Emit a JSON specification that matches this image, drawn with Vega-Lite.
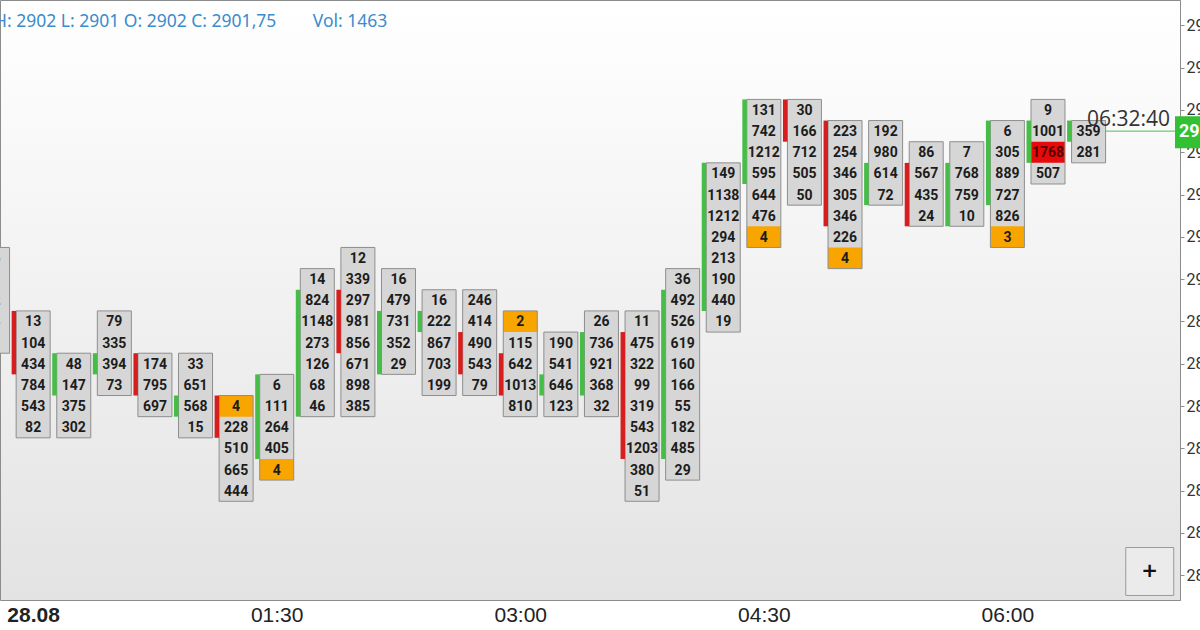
{
  "$schema": "https://vega.github.io/schema/vega-lite/v6.json",
  "width": 1180,
  "height": 600,
  "autosize": "none",
  "padding": {"left": 0, "top": 0, "right": 20, "bottom": 30},
  "background": "#ffffff",
  "title": {
    "text": "H: 2902 L: 2901 O: 2902 C: 2901,75\u00a0\u00a0\u00a0\u00a0\u00a0\u00a0\u00a0\u00a0Vol: 1463",
    "anchor": "start",
    "frame": "group",
    "orient": "top",
    "offset": 0,
    "dx": -6,
    "dy": 44,
    "baseline": "alphabetic",
    "font": "Noto Sans",
    "fontSize": 17.5,
    "fontWeight": "normal",
    "color": "#3a8ccc"
  },
  "config": {
    "view": {
      "stroke": "#8c8c8c",
      "fill": {"gradient": "linear", "x1": 0, "y1": 0, "x2": 0, "y2": 1, "stops": [{"offset": 0, "color": "#ffffff"}, {"offset": 1, "color": "#e3e3e3"}]}
    }
  },
  "datasets": {
    "cells": [
      {"t": "2019-08-27T23:45", "p": 2900.25, "v": 15}, {"t": "2019-08-27T23:45", "p": 2900, "v": 41}, {"t": "2019-08-27T23:45", "p": 2899.75, "v": 52}, {"t": "2019-08-27T23:45", "p": 2899.5, "v": 38}, {"t": "2019-08-27T23:45", "p": 2899.25, "v": 9},
      {"t": "2019-08-28T00:00", "p": 2899.5, "v": 13}, {"t": "2019-08-28T00:00", "p": 2899.25, "v": 104}, {"t": "2019-08-28T00:00", "p": 2899, "v": 434}, {"t": "2019-08-28T00:00", "p": 2898.75, "v": 784}, {"t": "2019-08-28T00:00", "p": 2898.5, "v": 543}, {"t": "2019-08-28T00:00", "p": 2898.25, "v": 82},
      {"t": "2019-08-28T00:15", "p": 2899, "v": 48}, {"t": "2019-08-28T00:15", "p": 2898.75, "v": 147}, {"t": "2019-08-28T00:15", "p": 2898.5, "v": 375}, {"t": "2019-08-28T00:15", "p": 2898.25, "v": 302},
      {"t": "2019-08-28T00:30", "p": 2899.5, "v": 79}, {"t": "2019-08-28T00:30", "p": 2899.25, "v": 335}, {"t": "2019-08-28T00:30", "p": 2899, "v": 394}, {"t": "2019-08-28T00:30", "p": 2898.75, "v": 73},
      {"t": "2019-08-28T00:45", "p": 2899, "v": 174}, {"t": "2019-08-28T00:45", "p": 2898.75, "v": 795}, {"t": "2019-08-28T00:45", "p": 2898.5, "v": 697},
      {"t": "2019-08-28T01:00", "p": 2899, "v": 33}, {"t": "2019-08-28T01:00", "p": 2898.75, "v": 651}, {"t": "2019-08-28T01:00", "p": 2898.5, "v": 568}, {"t": "2019-08-28T01:00", "p": 2898.25, "v": 15},
      {"t": "2019-08-28T01:15", "p": 2898.5, "v": 4, "k": "o"}, {"t": "2019-08-28T01:15", "p": 2898.25, "v": 228}, {"t": "2019-08-28T01:15", "p": 2898, "v": 510}, {"t": "2019-08-28T01:15", "p": 2897.75, "v": 665}, {"t": "2019-08-28T01:15", "p": 2897.5, "v": 444},
      {"t": "2019-08-28T01:30", "p": 2898.75, "v": 6}, {"t": "2019-08-28T01:30", "p": 2898.5, "v": 111}, {"t": "2019-08-28T01:30", "p": 2898.25, "v": 264}, {"t": "2019-08-28T01:30", "p": 2898, "v": 405}, {"t": "2019-08-28T01:30", "p": 2897.75, "v": 4, "k": "o"},
      {"t": "2019-08-28T01:45", "p": 2900, "v": 14}, {"t": "2019-08-28T01:45", "p": 2899.75, "v": 824}, {"t": "2019-08-28T01:45", "p": 2899.5, "v": 1148}, {"t": "2019-08-28T01:45", "p": 2899.25, "v": 273}, {"t": "2019-08-28T01:45", "p": 2899, "v": 126}, {"t": "2019-08-28T01:45", "p": 2898.75, "v": 68}, {"t": "2019-08-28T01:45", "p": 2898.5, "v": 46},
      {"t": "2019-08-28T02:00", "p": 2900.25, "v": 12}, {"t": "2019-08-28T02:00", "p": 2900, "v": 339}, {"t": "2019-08-28T02:00", "p": 2899.75, "v": 297}, {"t": "2019-08-28T02:00", "p": 2899.5, "v": 981}, {"t": "2019-08-28T02:00", "p": 2899.25, "v": 856}, {"t": "2019-08-28T02:00", "p": 2899, "v": 671}, {"t": "2019-08-28T02:00", "p": 2898.75, "v": 898}, {"t": "2019-08-28T02:00", "p": 2898.5, "v": 385},
      {"t": "2019-08-28T02:15", "p": 2900, "v": 16}, {"t": "2019-08-28T02:15", "p": 2899.75, "v": 479}, {"t": "2019-08-28T02:15", "p": 2899.5, "v": 731}, {"t": "2019-08-28T02:15", "p": 2899.25, "v": 352}, {"t": "2019-08-28T02:15", "p": 2899, "v": 29},
      {"t": "2019-08-28T02:30", "p": 2899.75, "v": 16}, {"t": "2019-08-28T02:30", "p": 2899.5, "v": 222}, {"t": "2019-08-28T02:30", "p": 2899.25, "v": 867}, {"t": "2019-08-28T02:30", "p": 2899, "v": 703}, {"t": "2019-08-28T02:30", "p": 2898.75, "v": 199},
      {"t": "2019-08-28T02:45", "p": 2899.75, "v": 246}, {"t": "2019-08-28T02:45", "p": 2899.5, "v": 414}, {"t": "2019-08-28T02:45", "p": 2899.25, "v": 490}, {"t": "2019-08-28T02:45", "p": 2899, "v": 543}, {"t": "2019-08-28T02:45", "p": 2898.75, "v": 79},
      {"t": "2019-08-28T03:00", "p": 2899.5, "v": 2, "k": "o"}, {"t": "2019-08-28T03:00", "p": 2899.25, "v": 115}, {"t": "2019-08-28T03:00", "p": 2899, "v": 642}, {"t": "2019-08-28T03:00", "p": 2898.75, "v": 1013}, {"t": "2019-08-28T03:00", "p": 2898.5, "v": 810},
      {"t": "2019-08-28T03:15", "p": 2899.25, "v": 190}, {"t": "2019-08-28T03:15", "p": 2899, "v": 541}, {"t": "2019-08-28T03:15", "p": 2898.75, "v": 646}, {"t": "2019-08-28T03:15", "p": 2898.5, "v": 123},
      {"t": "2019-08-28T03:30", "p": 2899.5, "v": 26}, {"t": "2019-08-28T03:30", "p": 2899.25, "v": 736}, {"t": "2019-08-28T03:30", "p": 2899, "v": 921}, {"t": "2019-08-28T03:30", "p": 2898.75, "v": 368}, {"t": "2019-08-28T03:30", "p": 2898.5, "v": 32},
      {"t": "2019-08-28T03:45", "p": 2899.5, "v": 11}, {"t": "2019-08-28T03:45", "p": 2899.25, "v": 475}, {"t": "2019-08-28T03:45", "p": 2899, "v": 322}, {"t": "2019-08-28T03:45", "p": 2898.75, "v": 99}, {"t": "2019-08-28T03:45", "p": 2898.5, "v": 319}, {"t": "2019-08-28T03:45", "p": 2898.25, "v": 543}, {"t": "2019-08-28T03:45", "p": 2898, "v": 1203}, {"t": "2019-08-28T03:45", "p": 2897.75, "v": 380}, {"t": "2019-08-28T03:45", "p": 2897.5, "v": 51},
      {"t": "2019-08-28T04:00", "p": 2900, "v": 36}, {"t": "2019-08-28T04:00", "p": 2899.75, "v": 492}, {"t": "2019-08-28T04:00", "p": 2899.5, "v": 526}, {"t": "2019-08-28T04:00", "p": 2899.25, "v": 619}, {"t": "2019-08-28T04:00", "p": 2899, "v": 160}, {"t": "2019-08-28T04:00", "p": 2898.75, "v": 166}, {"t": "2019-08-28T04:00", "p": 2898.5, "v": 55}, {"t": "2019-08-28T04:00", "p": 2898.25, "v": 182}, {"t": "2019-08-28T04:00", "p": 2898, "v": 485}, {"t": "2019-08-28T04:00", "p": 2897.75, "v": 29},
      {"t": "2019-08-28T04:15", "p": 2901.25, "v": 149}, {"t": "2019-08-28T04:15", "p": 2901, "v": 1138}, {"t": "2019-08-28T04:15", "p": 2900.75, "v": 1212}, {"t": "2019-08-28T04:15", "p": 2900.5, "v": 294}, {"t": "2019-08-28T04:15", "p": 2900.25, "v": 213}, {"t": "2019-08-28T04:15", "p": 2900, "v": 190}, {"t": "2019-08-28T04:15", "p": 2899.75, "v": 440}, {"t": "2019-08-28T04:15", "p": 2899.5, "v": 19},
      {"t": "2019-08-28T04:30", "p": 2902, "v": 131}, {"t": "2019-08-28T04:30", "p": 2901.75, "v": 742}, {"t": "2019-08-28T04:30", "p": 2901.5, "v": 1212}, {"t": "2019-08-28T04:30", "p": 2901.25, "v": 595}, {"t": "2019-08-28T04:30", "p": 2901, "v": 644}, {"t": "2019-08-28T04:30", "p": 2900.75, "v": 476}, {"t": "2019-08-28T04:30", "p": 2900.5, "v": 4, "k": "o"},
      {"t": "2019-08-28T04:45", "p": 2902, "v": 30}, {"t": "2019-08-28T04:45", "p": 2901.75, "v": 166}, {"t": "2019-08-28T04:45", "p": 2901.5, "v": 712}, {"t": "2019-08-28T04:45", "p": 2901.25, "v": 505}, {"t": "2019-08-28T04:45", "p": 2901, "v": 50},
      {"t": "2019-08-28T05:00", "p": 2901.75, "v": 223}, {"t": "2019-08-28T05:00", "p": 2901.5, "v": 254}, {"t": "2019-08-28T05:00", "p": 2901.25, "v": 346}, {"t": "2019-08-28T05:00", "p": 2901, "v": 305}, {"t": "2019-08-28T05:00", "p": 2900.75, "v": 346}, {"t": "2019-08-28T05:00", "p": 2900.5, "v": 226}, {"t": "2019-08-28T05:00", "p": 2900.25, "v": 4, "k": "o"},
      {"t": "2019-08-28T05:15", "p": 2901.75, "v": 192}, {"t": "2019-08-28T05:15", "p": 2901.5, "v": 980}, {"t": "2019-08-28T05:15", "p": 2901.25, "v": 614}, {"t": "2019-08-28T05:15", "p": 2901, "v": 72},
      {"t": "2019-08-28T05:30", "p": 2901.5, "v": 86}, {"t": "2019-08-28T05:30", "p": 2901.25, "v": 567}, {"t": "2019-08-28T05:30", "p": 2901, "v": 435}, {"t": "2019-08-28T05:30", "p": 2900.75, "v": 24},
      {"t": "2019-08-28T05:45", "p": 2901.5, "v": 7}, {"t": "2019-08-28T05:45", "p": 2901.25, "v": 768}, {"t": "2019-08-28T05:45", "p": 2901, "v": 759}, {"t": "2019-08-28T05:45", "p": 2900.75, "v": 10},
      {"t": "2019-08-28T06:00", "p": 2901.75, "v": 6}, {"t": "2019-08-28T06:00", "p": 2901.5, "v": 305}, {"t": "2019-08-28T06:00", "p": 2901.25, "v": 889}, {"t": "2019-08-28T06:00", "p": 2901, "v": 727}, {"t": "2019-08-28T06:00", "p": 2900.75, "v": 826}, {"t": "2019-08-28T06:00", "p": 2900.5, "v": 3, "k": "o"},
      {"t": "2019-08-28T06:15", "p": 2902, "v": 9}, {"t": "2019-08-28T06:15", "p": 2901.75, "v": 1001}, {"t": "2019-08-28T06:15", "p": 2901.5, "v": 1768, "k": "r"}, {"t": "2019-08-28T06:15", "p": 2901.25, "v": 507},
      {"t": "2019-08-28T06:30", "p": 2901.75, "v": 359}, {"t": "2019-08-28T06:30", "p": 2901.5, "v": 281}
    ],
    "bars": [
      {"t": "2019-08-27T23:45", "hi": 2900.25, "lo": 2899.25},
      {"t": "2019-08-28T00:00", "hi": 2899.5, "lo": 2898.25, "btop": 2899.5, "bbot": 2899, "dir": "down"},
      {"t": "2019-08-28T00:15", "hi": 2899, "lo": 2898.25, "btop": 2899, "bbot": 2898.75, "dir": "up"},
      {"t": "2019-08-28T00:30", "hi": 2899.5, "lo": 2898.75, "btop": 2899, "bbot": 2899, "dir": "up"},
      {"t": "2019-08-28T00:45", "hi": 2899, "lo": 2898.5, "btop": 2899, "bbot": 2898.75, "dir": "down"},
      {"t": "2019-08-28T01:00", "hi": 2899, "lo": 2898.25, "btop": 2898.5, "bbot": 2898.5, "dir": "up"},
      {"t": "2019-08-28T01:15", "hi": 2898.5, "lo": 2897.5, "btop": 2898.5, "bbot": 2898.25, "dir": "down"},
      {"t": "2019-08-28T01:30", "hi": 2898.75, "lo": 2897.75, "btop": 2898.75, "bbot": 2898, "dir": "up"},
      {"t": "2019-08-28T01:45", "hi": 2900, "lo": 2898.5, "btop": 2899.75, "bbot": 2898.5, "dir": "up"},
      {"t": "2019-08-28T02:00", "hi": 2900.25, "lo": 2898.5, "btop": 2899.75, "bbot": 2899.25, "dir": "down"},
      {"t": "2019-08-28T02:15", "hi": 2900, "lo": 2899, "btop": 2899.5, "bbot": 2899, "dir": "up"},
      {"t": "2019-08-28T02:30", "hi": 2899.75, "lo": 2898.75, "btop": 2899.5, "bbot": 2899.5, "dir": "up"},
      {"t": "2019-08-28T02:45", "hi": 2899.75, "lo": 2898.75, "btop": 2899.25, "bbot": 2899, "dir": "down"},
      {"t": "2019-08-28T03:00", "hi": 2899.5, "lo": 2898.5, "btop": 2899, "bbot": 2898.75, "dir": "down"},
      {"t": "2019-08-28T03:15", "hi": 2899.25, "lo": 2898.5, "btop": 2898.75, "bbot": 2898.75, "dir": "up"},
      {"t": "2019-08-28T03:30", "hi": 2899.5, "lo": 2898.5, "btop": 2899.25, "bbot": 2898.75, "dir": "up"},
      {"t": "2019-08-28T03:45", "hi": 2899.5, "lo": 2897.5, "btop": 2899.25, "bbot": 2898, "dir": "down"},
      {"t": "2019-08-28T04:00", "hi": 2900, "lo": 2897.75, "btop": 2899.75, "bbot": 2898, "dir": "up"},
      {"t": "2019-08-28T04:15", "hi": 2901.25, "lo": 2899.5, "btop": 2901.25, "bbot": 2899.75, "dir": "up"},
      {"t": "2019-08-28T04:30", "hi": 2902, "lo": 2900.5, "btop": 2902, "bbot": 2901.25, "dir": "up"},
      {"t": "2019-08-28T04:45", "hi": 2902, "lo": 2901, "btop": 2902, "bbot": 2901.75, "dir": "down"},
      {"t": "2019-08-28T05:00", "hi": 2901.75, "lo": 2900.25, "btop": 2901.75, "bbot": 2900.75, "dir": "down"},
      {"t": "2019-08-28T05:15", "hi": 2901.75, "lo": 2901, "btop": 2901.25, "bbot": 2901, "dir": "up"},
      {"t": "2019-08-28T05:30", "hi": 2901.5, "lo": 2900.75, "btop": 2901.25, "bbot": 2900.75, "dir": "down"},
      {"t": "2019-08-28T05:45", "hi": 2901.5, "lo": 2900.75, "btop": 2901.25, "bbot": 2900.75, "dir": "up"},
      {"t": "2019-08-28T06:00", "hi": 2901.75, "lo": 2900.5, "btop": 2901.75, "bbot": 2901, "dir": "up"},
      {"t": "2019-08-28T06:15", "hi": 2902, "lo": 2901.25, "btop": 2901.75, "bbot": 2901.5, "dir": "up"},
      {"t": "2019-08-28T06:30", "hi": 2901.75, "lo": 2901.5, "btop": 2901.75, "bbot": 2901.75, "dir": "up"}
    ],
    "cur": [
      {"t": "2019-08-28T06:30", "tend": "2019-08-28T07:01:56", "p": 2901.75, "clock": "06:32:40", "price": "2901,75"}
    ],
    "btn": [
      {"t": "2019-08-28T06:52:36", "p": 2896.545, "label": "+"}
    ]
  },
  "layer": [
    {
      "data": {"name": "bars"},
      "mark": {"type": "bar", "width": 34, "fill": "#d6d6d6", "yOffset": -10.575, "y2Offset": 10.575},
      "encoding": {
        "x": {
          "field": "t", "type": "temporal",
          "scale": {"domain": [{"year": 2019, "month": 8, "date": 27, "hours": 23, "minutes": 49, "seconds": 36}, {"year": 2019, "month": 8, "date": 28, "hours": 7, "minutes": 1, "seconds": 56}], "nice": false},
          "axis": {
            "title": null, "orient": "bottom", "grid": false, "domain": false, "ticks": false, "tickSize": 0,
            "values": [{"year": 2019, "month": 8, "date": 28, "hours": 0}, {"year": 2019, "month": 8, "date": 28, "hours": 1, "minutes": 30}, {"year": 2019, "month": 8, "date": 28, "hours": 3}, {"year": 2019, "month": 8, "date": 28, "hours": 4, "minutes": 30}, {"year": 2019, "month": 8, "date": 28, "hours": 6}],
            "labelExpr": "hours(datum.value) == 0 ? timeFormat(datum.value, '%d.%m') : timeFormat(datum.value, '%H:%M')",
            "labelFont": "Liberation Sans", "labelFontSize": 21, "labelColor": "#222222",
            "labelFontWeight": {"condition": {"test": "hours(datum.value) == 0", "value": "bold"}, "value": "normal"},
            "labelBaseline": "middle", "labelPadding": 15, "labelFlush": false, "labelOverlap": false
          }
        },
        "y": {
          "field": "hi", "type": "quantitative",
          "scale": {"domain": [2896.208, 2903.3], "nice": false, "zero": false},
          "axis": {
            "title": null, "orient": "right", "grid": false,
            "values": [2896, 2896.5, 2897, 2897.5, 2898, 2898.5, 2899, 2899.5, 2900, 2900.5, 2901, 2901.5, 2902, 2902.5, 2903],
            "format": ".2f", "domainColor": "#8c8c8c", "tickColor": "#8c8c8c", "tickSize": 4,
            "labelFont": "Roboto", "labelFontSize": 16, "labelColor": "#333333", "labelPadding": 2,
            "labelBaseline": "middle", "labelAlign": "left", "labelOverlap": false, "labelFlush": false
          }
        },
        "y2": {"field": "lo"}
      }
    },
    {
      "data": {"name": "cells"},
      "transform": [{"filter": "isValid(datum.k)"}],
      "mark": {"type": "bar", "width": 34, "yOffset": -10.575, "y2Offset": 10.575},
      "encoding": {
        "x": {"field": "t", "type": "temporal"},
        "y": {"field": "p", "type": "quantitative"},
        "y2": {"field": "p"},
        "fill": {"condition": {"test": "datum.k == 'r'", "value": "#e60a0a"}, "value": "#f8a500"}
      }
    },
    {
      "data": {"name": "bars"},
      "mark": {"type": "bar", "width": 34, "fill": null, "fillOpacity": 0, "stroke": "#8e8e8e", "strokeWidth": 1, "yOffset": -10.575, "y2Offset": 10.575},
      "encoding": {
        "x": {"field": "t", "type": "temporal"},
        "y": {"field": "hi", "type": "quantitative"},
        "y2": {"field": "lo"}
      }
    },
    {
      "data": {"name": "bars"},
      "transform": [{"filter": "isValid(datum.btop)"}],
      "mark": {"type": "bar", "width": 4.5, "xOffset": -19.25, "yOffset": -10.575, "y2Offset": 10.575},
      "encoding": {
        "x": {"field": "t", "type": "temporal"},
        "y": {"field": "btop", "type": "quantitative"},
        "y2": {"field": "bbot"},
        "color": {"field": "dir", "type": "nominal", "scale": {"domain": ["up", "down"], "range": ["#46bd46", "#d61e1e"]}, "legend": null}
      }
    },
    {
      "data": {"name": "cells"},
      "mark": {"type": "text", "font": "Roboto", "fontSize": 14, "fontWeight": "bold", "baseline": "middle", "align": "center", "dy": 1},
      "encoding": {
        "x": {"field": "t", "type": "temporal"},
        "y": {"field": "p", "type": "quantitative"},
        "text": {"field": "v", "type": "quantitative", "format": "d"},
        "color": {"condition": {"test": "datum.k == 'r'", "value": "#5a0000"}, "value": "#1c1c1c"}
      }
    },
    {
      "data": {"name": "cur"},
      "mark": {"type": "rule", "color": "#4cc24c", "strokeWidth": 1, "xOffset": 17},
      "encoding": {
        "x": {"field": "t", "type": "temporal"},
        "x2": {"field": "tend"},
        "y": {"field": "p", "type": "quantitative"}
      }
    },
    {
      "data": {"name": "cur"},
      "mark": {"type": "text", "font": "Open Sans", "fontSize": 21, "align": "right", "baseline": "alphabetic", "dx": -5, "dy": -5, "color": "#333333"},
      "encoding": {
        "x": {"field": "tend", "type": "temporal"},
        "y": {"field": "p", "type": "quantitative"},
        "text": {"field": "clock"}
      }
    },
    {
      "data": {"name": "cur"},
      "mark": {"type": "rect", "fill": "#33c033", "clip": false, "x2Offset": 40, "yOffset": -15, "y2Offset": 17},
      "encoding": {
        "x": {"field": "tend", "type": "temporal"},
        "x2": {"field": "tend"},
        "y": {"field": "p", "type": "quantitative"},
        "y2": {"field": "p"}
      }
    },
    {
      "data": {"name": "cur"},
      "mark": {"type": "text", "font": "Roboto", "fontSize": 18, "fontWeight": "bold", "align": "left", "baseline": "middle", "dx": 4, "dy": 1, "color": "#ffffff", "clip": false},
      "encoding": {
        "x": {"field": "tend", "type": "temporal"},
        "y": {"field": "p", "type": "quantitative"},
        "text": {"field": "price"}
      }
    },
    {
      "data": {"name": "btn"},
      "mark": {"type": "point", "shape": "square", "size": 2300, "filled": true, "fill": "#ebebeb", "stroke": "#9a9a9a", "strokeWidth": 1, "opacity": 1},
      "encoding": {
        "x": {"field": "t", "type": "temporal"},
        "y": {"field": "p", "type": "quantitative"}
      }
    },
    {
      "data": {"name": "btn"},
      "mark": {"type": "text", "font": "DejaVu Sans", "fontSize": 20, "fontWeight": "bold", "align": "center", "baseline": "middle", "color": "#111111"},
      "encoding": {
        "x": {"field": "t", "type": "temporal"},
        "y": {"field": "p", "type": "quantitative"},
        "text": {"field": "label"}
      }
    }
  ]
}
